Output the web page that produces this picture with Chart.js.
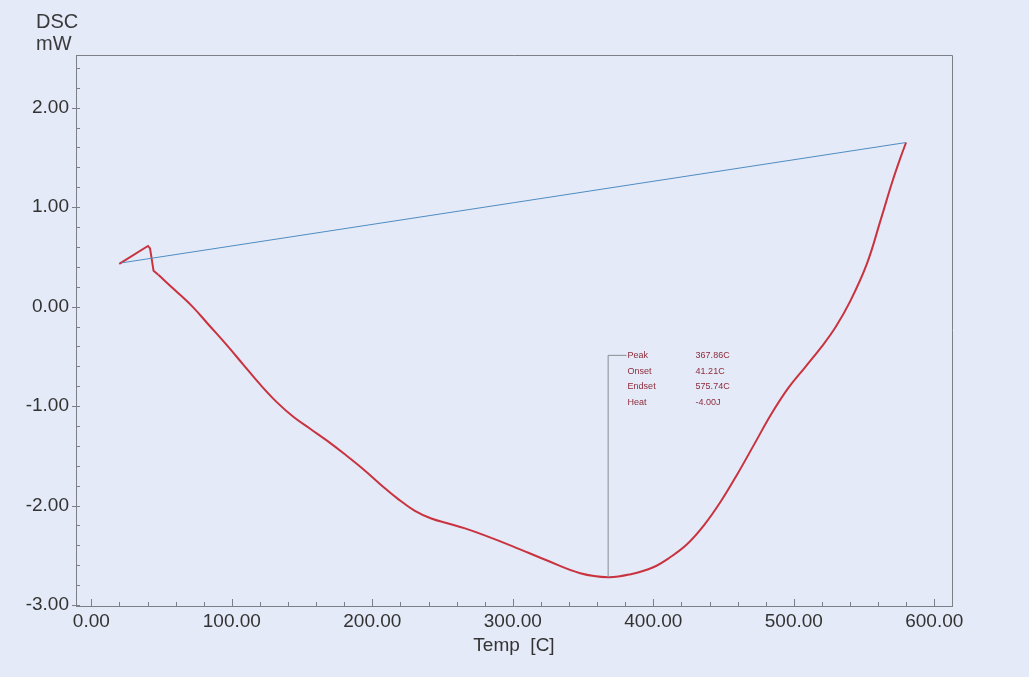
<!DOCTYPE html>
<html>
<head>
<meta charset="utf-8">
<script src="https://cdn.jsdelivr.net/npm/chart.js@4"></script>
<style>
  html,body{margin:0;padding:0;background:#e4eaf7;}
  #wrap{width:1029px;height:677px;position:relative;}
</style>
</head>
<body>
<div id="wrap"><canvas id="dsc"></canvas></div>
<script>
// DSC trace (red): start spike + main endotherm
const spikeT=[19.9,40.3,41.8,44.3,47.7];
const spikeD=[0.43,0.61,0.585,0.36,0.32];
const tempC=[47.7,60,72,84,96,108,120,132,144,156,168,180,194,206,218,230,242,254,266,280,300,324,348,368,384,400,412,424,436,448,460,472,484,496,508,520,530,540,552,562,570,576,579.9];
const dscMw=[0.32,0.16,0.0,-0.19,-0.38,-0.58,-0.78,-0.96,-1.11,-1.23,-1.35,-1.48,-1.64,-1.79,-1.93,-2.05,-2.13,-2.18,-2.23,-2.30,-2.41,-2.55,-2.68,-2.72,-2.69,-2.62,-2.52,-2.39,-2.20,-1.96,-1.68,-1.38,-1.08,-0.82,-0.61,-0.40,-0.20,0.05,0.43,0.88,1.25,1.50,1.65];

// baseline (blue)
const baseT=[21.5,579.9];
const baseD=[0.44,1.65];

// peak marker line
const peakT=[367.86,367.86,381];
const peakD=[-2.72,-0.49,-0.49];

// result table
const resLabels=['Peak','Onset','Endset','Heat'];
const resValues=['367.86C','41.21C','575.74C','-4.00J'];

// axes
const xRange=[-10.9,612.6];
const yRange=[-3.01,2.53];
const xTicks=[0,20,40,60,80,100,120,140,160,180,200,220,240,260,280,300,320,340,360,380,400,420,440,460,480,500,520,540,560,580,600];
const yTicks=[-3.0,-2.8,-2.6,-2.4,-2.2,-2.0,-1.8,-1.6,-1.4,-1.2,-1.0,-0.8,-0.6,-0.4,-0.2,0,0.2,0.4,0.6,0.8,1.0,1.2,1.4,1.6,1.8,2.0,2.2,2.4];

const pts=(xs,ys)=>xs.map((v,i)=>({x:v,y:ys[i]}));
const FONT='"Liberation Sans", Arial, sans-serif';
const RED='#c9333f';

// frame, inward tick marks and text blocks
const decor={
  id:'decor',
  afterDraw(chart){
    const {ctx,chartArea:a,scales:{x,y}}=chart;
    ctx.save();
    ctx.strokeStyle='#7c7f88';ctx.lineWidth=1;
    ctx.beginPath();
    ctx.moveTo(a.left,a.top+0.5);ctx.lineTo(a.right+0.5,a.top+0.5);ctx.lineTo(a.right+0.5,a.bottom);
    ctx.stroke();
    ctx.beginPath();
    x.ticks.forEach(t=>{
      const px=Math.round(x.getPixelForValue(t.value))+0.5;
      const len=t.value%100===0?7:4;
      ctx.moveTo(px,a.bottom);ctx.lineTo(px,a.bottom-len);
    });
    y.ticks.forEach(t=>{
      const py=Math.round(y.getPixelForValue(t.value))+0.5;
      const major=Math.abs(t.value-Math.round(t.value))<1e-6;
      ctx.moveTo(major?a.left-4:a.left,py);ctx.lineTo(a.left+4,py);
    });
    ctx.stroke();

    ctx.fillStyle='#3a3a3c';
    ctx.font='20px '+FONT;
    ctx.textBaseline='middle';ctx.textAlign='left';
    ctx.fillText('DSC',36,22);
    ctx.fillText('mW',36,44);

    const tx=x.getPixelForValue(peakT[2])+1;
    const ty=y.getPixelForValue(peakD[2]);
    ctx.font='9px '+FONT;
    ctx.fillStyle='#8e2b3b';
    resLabels.forEach((s,i)=>{
      ctx.fillText(s,tx,ty+i*15.8);
      ctx.fillText(resValues[i],tx+68,ty+i*15.8);
    });
    ctx.restore();
  }
};

new Chart(document.getElementById('dsc'),{
  type:'line',
  data:{datasets:[
    {label:'Baseline',data:pts(baseT,baseD),borderColor:'#4f8cc2',borderWidth:1,pointRadius:0,tension:0},
    {label:'Peak line',data:pts(peakT,peakD),borderColor:'#8a8d96',borderWidth:1,pointRadius:0,tension:0},
    {label:'DSC start',data:pts(spikeT,spikeD),borderColor:RED,borderWidth:2,pointRadius:0,tension:0},
    {label:'DSC',data:pts(tempC,dscMw),borderColor:RED,borderWidth:2,pointRadius:0,tension:0.4}
  ]},
  options:{
    responsive:true,maintainAspectRatio:false,animation:false,
    layout:{padding:{top:55,right:77,bottom:0,left:0}},
    plugins:{legend:{display:false},tooltip:{enabled:false}},
    scales:{
      x:{type:'linear',min:xRange[0],max:xRange[1],
        afterBuildTicks:s=>{s.ticks=xTicks.map(v=>({value:v}));},
        afterFit:s=>{s.height=71;},
        grid:{display:true,drawOnChartArea:false,drawTicks:false},
        border:{display:true,color:'#7c7f88',width:1},
        ticks:{autoSkip:false,maxRotation:0,padding:4,color:'#333',font:{family:FONT,size:19},
          callback:v=>v%100===0?v.toFixed(2):''},
        title:{display:true,text:'Temp  [C]',color:'#333',font:{family:FONT,size:19},padding:{top:0,bottom:20}}
      },
      y:{type:'linear',min:yRange[0],max:yRange[1],
        afterBuildTicks:s=>{s.ticks=yTicks.map(v=>({value:v}));},
        afterFit:s=>{s.width=76;},
        grid:{display:true,drawOnChartArea:false,drawTicks:false},
        border:{display:true,color:'#7c7f88',width:1},
        ticks:{autoSkip:false,padding:7,color:'#333',font:{family:FONT,size:19},
          callback:v=>Math.abs(v-Math.round(v))<1e-6?v.toFixed(2):''}
      }
    }
  },
  plugins:[decor]
});
</script>
</body>
</html>
